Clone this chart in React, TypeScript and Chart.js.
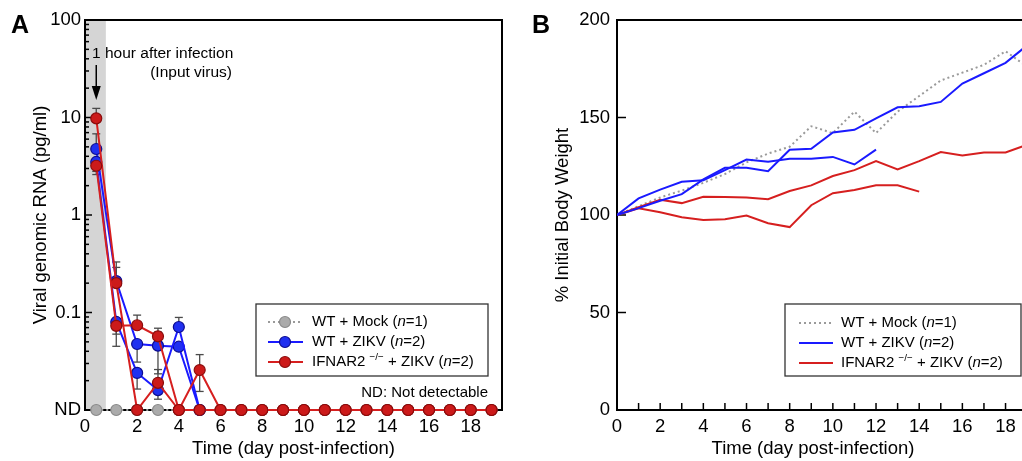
import React, { useEffect, useRef } from "react";
import { Chart, registerables } from "chart.js";

Chart.register(...registerables);

const FONT = "'Liberation Sans', Arial, Helvetica, sans-serif";
Chart.defaults.font.family = FONT;
Chart.defaults.color = "#000";

// ---------------- Panel A data ----------------
const ND = 0.01;
const DAYS_A = [0.04, 1, 2, 3, 4, 5, 6, 7, 8, 9, 10, 11, 12, 13, 14, 15, 16, 17, 18, 19];
const MOCK_A = [ND, ND, ND, ND, ND, ND, ND, ND, ND, ND, ND, ND, ND, ND, ND, ND, ND, ND, ND, ND];
const WT_ZIKV_A1 = [4.75, 0.21, 0.0475, 0.0457, 0.0446, ND];
const WT_ZIKV_A2 = [3.5, 0.08, 0.024, 0.016, 0.071, ND];
const KO_ZIKV_A1 = [9.8, 0.2, ND, 0.019, ND, 0.0257, ND, ND, ND, ND, ND, ND, ND, ND, ND, ND, ND, ND, ND, ND];
const KO_ZIKV_A2 = [3.2, 0.073, 0.074, 0.057, ND, ND, ND, ND, ND, ND, ND, ND, ND, ND, ND, ND, ND, ND, ND, ND];
const WT_ZIKV_A1_HI = [6.8, 0.33, null, 0.063, null, null];
const WT_ZIKV_A1_LO = [null, null, 0.031, 0.0235, null, null];
const WT_ZIKV_A2_HI = [null, null, null, null, 0.089, null];
const WT_ZIKV_A2_LO = [2.8, 0.06, 0.0164, 0.0129, null, null];
const KO_ZIKV_A1_HI = [12.4, 0.29, null, 0.026, null, 0.037];
const KO_ZIKV_A1_LO = [null, null, null, null, null, 0.0155];
const KO_ZIKV_A2_HI = [null, null, 0.094, 0.069, null, null];
const KO_ZIKV_A2_LO = [2.6, 0.045, null, null, null, null];

const X_MIN_A = -0.5;
const X_MAX_A = 19.5;
const X_TICKS_A = [0, 2, 4, 6, 8, 10, 12, 14, 16, 18];
const X_TICK_LABELS_A = ["0", "2", "4", "6", "8", "10", "12", "14", "16", "18"];
const Y_TICKS_A = [0.01, 0.1, 1, 10, 100];
const Y_TICK_LABELS_A = ["ND", "0.1", "1", "10", "100"];
const BAND_A = [-0.5, 0.5];
const ARROW_DAY = 0.04;

// ---------------- Panel B data ----------------
const DAYS_B = [0, 1, 2, 3, 4, 5, 6, 7, 8, 9, 10, 11, 12, 13, 14, 15, 16, 17, 18, 19];
const MOCK_B = [100, 104.5, 109, 112.5, 116.5, 121, 127, 131.5, 135, 145.5, 142, 153, 142, 153, 161, 169, 173, 177, 184, 176];
const WT_ZIKV_B1 = [100, 108.5, 113, 117, 117.8, 123, 128.4, 127.3, 128.9, 128.9, 129.8, 125.9, 133.5];
const WT_ZIKV_B2 = [100, 103.5, 107.3, 110.7, 118.3, 124.2, 124.2, 122.5, 133.5, 134, 142.3, 143.7, 149.6, 155.2, 155.8, 158, 167.4, 172.7, 178, 187];
const KO_ZIKV_B1 = [100, 104, 107.8, 106.1, 109.3, 109.2, 109, 108.1, 112.3, 115.2, 120, 123, 127.6, 123.4, 127.6, 132.3, 130.5, 132.1, 132.1, 136];
const KO_ZIKV_B2 = [100, 103.4, 101.4, 98.8, 97.5, 97.8, 99.7, 95.8, 93.8, 105, 111.2, 112.8, 115.2, 115.2, 112];

const X_TICKS_B = [0, 2, 4, 6, 8, 10, 12, 14, 16, 18, 20];
const X_MINOR_TICKS_B = [0, 1, 2, 3, 4, 5, 6, 7, 8, 9, 10, 11, 12, 13, 14, 15, 16, 17, 18, 19, 20];
const Y_TICKS_B = [0, 50, 100, 150, 200];

// ---------------- Legend texts ----------------
type Seg = { t: string; italic?: boolean; sup?: boolean };
const LEGEND_MOCK: Seg[] = [{ t: "WT + Mock (" }, { t: "n", italic: true }, { t: "=1)" }];
const LEGEND_WT: Seg[] = [{ t: "WT + ZIKV (" }, { t: "n", italic: true }, { t: "=2)" }];
const LEGEND_KO: Seg[] = [{ t: "IFNAR2 " }, { t: "−/−", sup: true }, { t: " + ZIKV (" }, { t: "n", italic: true }, { t: "=2)" }];

const RED = "#d61f1f";
const RED_FILL = "#cc1a1a";
const RED_EDGE = "#8a0c0c";
const BLUE = "#1a1aff";
const BLUE_FILL = "#2030f0";
const BLUE_EDGE = "#0c0c90";
const GRAY = "#9a9a9a";
const GRAY_FILL = "#ababab";
const GRAY_EDGE = "#8a8a8a";

const TICK_FONT = 18.5;
const TITLE_FONT = 18.5;

function drawRich(ctx: CanvasRenderingContext2D, segs: Seg[], x: number, y: number, size: number) {
  let cx = x;
  ctx.textAlign = "left";
  ctx.textBaseline = "middle";
  for (const s of segs) {
    const sz = s.sup ? size * 0.66 : size;
    ctx.font = `${s.italic ? "italic " : ""}${sz}px ${FONT}`;
    ctx.fillText(s.t, cx, s.sup ? y - size * 0.33 : y);
    cx += ctx.measureText(s.t).width;
  }
}

function line(ctx: CanvasRenderingContext2D, x0: number, y0: number, x1: number, y1: number) {
  ctx.beginPath();
  ctx.moveTo(x0, y0);
  ctx.lineTo(x1, y1);
  ctx.stroke();
}

const ERRORS_A = [
  { values: WT_ZIKV_A1, hi: WT_ZIKV_A1_HI, lo: WT_ZIKV_A1_LO },
  { values: WT_ZIKV_A2, hi: WT_ZIKV_A2_HI, lo: WT_ZIKV_A2_LO },
  { values: KO_ZIKV_A1, hi: KO_ZIKV_A1_HI, lo: KO_ZIKV_A1_LO },
  { values: KO_ZIKV_A2, hi: KO_ZIKV_A2_HI, lo: KO_ZIKV_A2_LO },
];

const panelAPlugin = {
  id: "panelA",
  beforeDatasetsDraw(chart: any) {
    const { ctx, chartArea: ca, scales } = chart;
    const x = scales.x;
    const y = scales.y;
    ctx.save();
    // shaded band
    const b0 = x.getPixelForValue(BAND_A[0]);
    const b1 = x.getPixelForValue(BAND_A[1]);
    ctx.fillStyle = "#d5d5d5";
    ctx.fillRect(b0, ca.top, b1 - b0, ca.bottom - ca.top);
    // frame
    ctx.strokeStyle = "#000";
    ctx.lineWidth = 2;
    ctx.strokeRect(ca.left, ca.top, ca.right - ca.left, ca.bottom - ca.top);
    // log ticks (inward)
    ctx.lineWidth = 1.5;
    for (let e = -2; e <= 2; e++) {
      for (let k = 1; k <= 9; k++) {
        const v = k * Math.pow(10, e);
        if (v > 100.0001) break;
        const py = y.getPixelForValue(v);
        const len = k === 1 ? 7 : 4;
        line(ctx, ca.left, py, ca.left + len, py);
      }
    }
    // error bars
    ctx.strokeStyle = "#4a4a4a";
    ctx.lineWidth = 1.3;
    for (const s of ERRORS_A) {
      s.values.forEach((v, i) => {
        const px = x.getPixelForValue(DAYS_A[i]);
        const py = y.getPixelForValue(v);
        for (const e of [s.hi[i], s.lo[i]]) {
          if (e == null) continue;
          const pe = y.getPixelForValue(e);
          line(ctx, px, py, px, pe);
          line(ctx, px - 4, pe, px + 4, pe);
        }
      });
    }
    ctx.restore();
  },
  afterDatasetsDraw(chart: any) {
    const { ctx, chartArea: ca, scales } = chart;
    const x = scales.x;
    ctx.save();
    ctx.fillStyle = "#000";
    // panel letter
    ctx.font = `bold 25px ${FONT}`;
    ctx.textBaseline = "alphabetic";
    ctx.textAlign = "left";
    ctx.fillText("A", 11, 33);
    // annotation
    ctx.font = `15.5px ${FONT}`;
    ctx.textBaseline = "middle";
    ctx.fillText("1 hour after infection", ca.left + 7, 54);
    ctx.textAlign = "right";
    ctx.fillText("(Input virus)", ca.left + 147, 73);
    // arrow
    const ax = x.getPixelForValue(ARROW_DAY);
    ctx.strokeStyle = "#000";
    ctx.lineWidth = 1.5;
    line(ctx, ax, 65, ax, 90);
    ctx.beginPath();
    ctx.moveTo(ax - 4.5, 86);
    ctx.lineTo(ax + 4.5, 86);
    ctx.lineTo(ax, 100);
    ctx.closePath();
    ctx.fill();
    // legend
    const bl = ca.right - 246;
    const bt = 304;
    ctx.fillStyle = "#fff";
    ctx.fillRect(bl, bt, 232, 72);
    ctx.strokeStyle = "#333";
    ctx.lineWidth = 1.3;
    ctx.strokeRect(bl, bt, 232, 72);
    const rows = [
      { segs: LEGEND_MOCK, color: GRAY, fill: GRAY_FILL, edge: GRAY_EDGE, dash: [2, 3] },
      { segs: LEGEND_WT, color: BLUE, fill: BLUE_FILL, edge: BLUE_EDGE, dash: [] },
      { segs: LEGEND_KO, color: RED, fill: RED_FILL, edge: RED_EDGE, dash: [] },
    ];
    rows.forEach((r, i) => {
      const ry = bt + 18 + i * 20;
      ctx.strokeStyle = r.color;
      ctx.lineWidth = 2;
      ctx.setLineDash(r.dash);
      line(ctx, bl + 12, ry, bl + 47, ry);
      ctx.setLineDash([]);
      ctx.beginPath();
      ctx.arc(bl + 29, ry, 5.5, 0, Math.PI * 2);
      ctx.fillStyle = r.fill;
      ctx.fill();
      ctx.strokeStyle = r.edge;
      ctx.lineWidth = 1.2;
      ctx.stroke();
      ctx.fillStyle = "#000";
      drawRich(ctx, r.segs, bl + 56, ry, 15);
    });
    ctx.font = `15px ${FONT}`;
    ctx.textAlign = "right";
    ctx.textBaseline = "middle";
    ctx.fillStyle = "#000";
    ctx.fillText("ND: Not detectable", ca.right - 14, 393);
    ctx.restore();
  },
};

const panelBPlugin = {
  id: "panelB",
  beforeDatasetsDraw(chart: any) {
    const { ctx, chartArea: ca, scales } = chart;
    const x = scales.x;
    const y = scales.y;
    ctx.save();
    ctx.strokeStyle = "#000";
    ctx.lineWidth = 2;
    ctx.strokeRect(ca.left, ca.top, ca.right - ca.left, ca.bottom - ca.top);
    ctx.lineWidth = 1.5;
    for (const d of X_MINOR_TICKS_B) {
      const px = x.getPixelForValue(d);
      line(ctx, px, ca.bottom, px, ca.bottom - 7);
    }
    for (const v of Y_TICKS_B) {
      const py = y.getPixelForValue(v);
      line(ctx, ca.left, py, ca.left + 9, py);
    }
    ctx.restore();
  },
  afterDatasetsDraw(chart: any) {
    const { ctx, chartArea: ca } = chart;
    ctx.save();
    ctx.fillStyle = "#000";
    ctx.font = `bold 25px ${FONT}`;
    ctx.textBaseline = "alphabetic";
    ctx.textAlign = "left";
    ctx.fillText("B", 12, 33);
    // x-axis title
    ctx.font = `${TITLE_FONT}px ${FONT}`;
    ctx.textAlign = "center";
    ctx.textBaseline = "middle";
    ctx.fillText("Time (day post-infection)", ca.left + 196, 449);
    // legend
    const bl = ca.left + 168;
    const bt = 304;
    ctx.fillStyle = "#fff";
    ctx.fillRect(bl, bt, 236, 72);
    ctx.strokeStyle = "#333";
    ctx.lineWidth = 1.3;
    ctx.strokeRect(bl, bt, 236, 72);
    const rows = [
      { segs: LEGEND_MOCK, color: GRAY, dash: [2, 3] },
      { segs: LEGEND_WT, color: BLUE, dash: [] },
      { segs: LEGEND_KO, color: RED, dash: [] },
    ];
    rows.forEach((r, i) => {
      const ry = bt + 19 + i * 20;
      ctx.strokeStyle = r.color;
      ctx.lineWidth = 2;
      ctx.setLineDash(r.dash);
      line(ctx, bl + 14, ry, bl + 48, ry);
      ctx.setLineDash([]);
      ctx.fillStyle = "#000";
      drawRich(ctx, r.segs, bl + 56, ry, 15);
    });
    ctx.restore();
  },
};

function seriesA(vals: number[], label: string, color: string, fill: string, edge: string, order: number, dash: number[] = []) {
  return {
    label,
    data: vals.map((v, i) => ({ x: DAYS_A[i], y: v })),
    borderColor: color,
    borderWidth: 2,
    borderDash: dash,
    backgroundColor: fill,
    pointBackgroundColor: fill,
    pointBorderColor: edge,
    pointBorderWidth: 1.2,
    pointRadius: 5.5,
    tension: 0,
    clip: false as any,
    order,
  };
}

function seriesB(vals: number[], label: string, color: string, order: number, dash: number[] = []) {
  return {
    label,
    data: vals.map((v, i) => ({ x: DAYS_B[i], y: v })),
    borderColor: color,
    borderWidth: 2,
    borderDash: dash,
    pointRadius: 0,
    tension: 0,
    order,
  };
}

function configA(): any {
  return {
    type: "line",
    data: {
      datasets: [
        seriesA(MOCK_A, "WT + Mock (n=1)", GRAY, GRAY_FILL, GRAY_EDGE, 5, [2, 3]),
        seriesA(WT_ZIKV_A1, "WT + ZIKV #1", BLUE, BLUE_FILL, BLUE_EDGE, 4),
        seriesA(WT_ZIKV_A2, "WT + ZIKV #2", BLUE, BLUE_FILL, BLUE_EDGE, 3),
        seriesA(KO_ZIKV_A1, "IFNAR2-/- + ZIKV #1", RED, RED_FILL, RED_EDGE, 2),
        seriesA(KO_ZIKV_A2, "IFNAR2-/- + ZIKV #2", RED, RED_FILL, RED_EDGE, 1),
      ],
    },
    options: {
      animation: false,
      responsive: false,
      devicePixelRatio: 1,
      layout: { padding: { left: 0, top: 20, right: 8, bottom: 0 } },
      plugins: { legend: { display: false }, tooltip: { enabled: false } },
      scales: {
        x: {
          type: "linear",
          min: X_MIN_A,
          max: X_MAX_A,
          grid: { display: false, drawTicks: false },
          border: { display: false },
          afterBuildTicks: (s: any) => {
            // the "0" label of the original sits at the left edge of the axis
            s.ticks = X_TICKS_A.map((v) => ({ value: v === 0 ? X_MIN_A : v }));
          },
          afterFit: (s: any) => {
            s.height = 51;
          },
          ticks: {
            autoSkip: false,
            maxRotation: 0,
            padding: 6,
            color: "#000",
            font: { size: TICK_FONT },
            callback: (_v: any, i: number) => X_TICK_LABELS_A[i],
          },
          title: {
            display: true,
            text: "Time (day post-infection)",
            color: "#000",
            font: { size: TITLE_FONT },
            padding: { top: 0, bottom: 1 },
          },
        },
        y: {
          type: "logarithmic",
          min: ND,
          max: 100,
          grid: { display: false, drawTicks: false },
          border: { display: false },
          afterBuildTicks: (s: any) => {
            s.ticks = Y_TICKS_A.map((v) => ({ value: v }));
          },
          afterFit: (s: any) => {
            s.width = 85;
          },
          ticks: {
            autoSkip: false,
            padding: 4,
            color: "#000",
            font: { size: TICK_FONT },
            callback: (_v: any, i: number) => Y_TICK_LABELS_A[i],
          },
          title: {
            display: true,
            text: "Viral genomic RNA (pg/ml)",
            color: "#000",
            font: { size: TITLE_FONT },
            padding: { top: 30, bottom: 0 },
          },
        },
      },
    },
    plugins: [panelAPlugin],
  };
}

function configB(): any {
  return {
    type: "line",
    data: {
      datasets: [
        seriesB(MOCK_B, "WT + Mock (n=1)", GRAY, 5, [2, 3]),
        seriesB(KO_ZIKV_B1, "IFNAR2-/- + ZIKV #1", RED, 4),
        seriesB(KO_ZIKV_B2, "IFNAR2-/- + ZIKV #2", RED, 3),
        seriesB(WT_ZIKV_B1, "WT + ZIKV #1", BLUE, 2),
        seriesB(WT_ZIKV_B2, "WT + ZIKV #2", BLUE, 1),
      ],
    },
    options: {
      animation: false,
      responsive: false,
      devicePixelRatio: 1,
      layout: { padding: { left: 0, top: 20, right: 8, bottom: 0 } },
      plugins: { legend: { display: false }, tooltip: { enabled: false } },
      scales: {
        x: {
          type: "linear",
          min: 0,
          max: 20,
          grid: { display: false, drawTicks: false },
          border: { display: false },
          afterBuildTicks: (s: any) => {
            s.ticks = X_TICKS_B.map((v) => ({ value: v }));
          },
          afterFit: (s: any) => {
            s.height = 51;
          },
          ticks: {
            autoSkip: false,
            maxRotation: 0,
            padding: 6,
            color: "#000",
            font: { size: TICK_FONT },
          },
        },
        y: {
          type: "linear",
          min: 0,
          max: 200,
          grid: { display: false, drawTicks: false },
          border: { display: false },
          afterBuildTicks: (s: any) => {
            s.ticks = Y_TICKS_B.map((v) => ({ value: v }));
          },
          afterFit: (s: any) => {
            s.width = 97;
          },
          ticks: {
            autoSkip: false,
            padding: 7,
            color: "#000",
            font: { size: TICK_FONT },
          },
          title: {
            display: true,
            text: "% Initial Body Weight",
            color: "#000",
            font: { size: TITLE_FONT },
            padding: { top: 32, bottom: 0 },
          },
        },
      },
    },
    plugins: [panelBPlugin],
  };
}

export default function App() {
  const aRef = useRef<HTMLCanvasElement>(null);
  const bRef = useRef<HTMLCanvasElement>(null);
  useEffect(() => {
    const ca = new Chart(aRef.current as HTMLCanvasElement, configA());
    const cb = new Chart(bRef.current as HTMLCanvasElement, configB());
    return () => {
      ca.destroy();
      cb.destroy();
    };
  }, []);
  return (
    <div style={{ position: "fixed", left: 0, top: 0, width: 1022, height: 461, overflow: "hidden", background: "#fff" }}>
      <canvas ref={aRef} width={510} height={461} style={{ position: "absolute", left: 0, top: 0, width: 510, height: 461 }} />
      <canvas ref={bRef} width={545} height={461} style={{ position: "absolute", left: 520, top: 0, width: 545, height: 461 }} />
    </div>
  );
}
